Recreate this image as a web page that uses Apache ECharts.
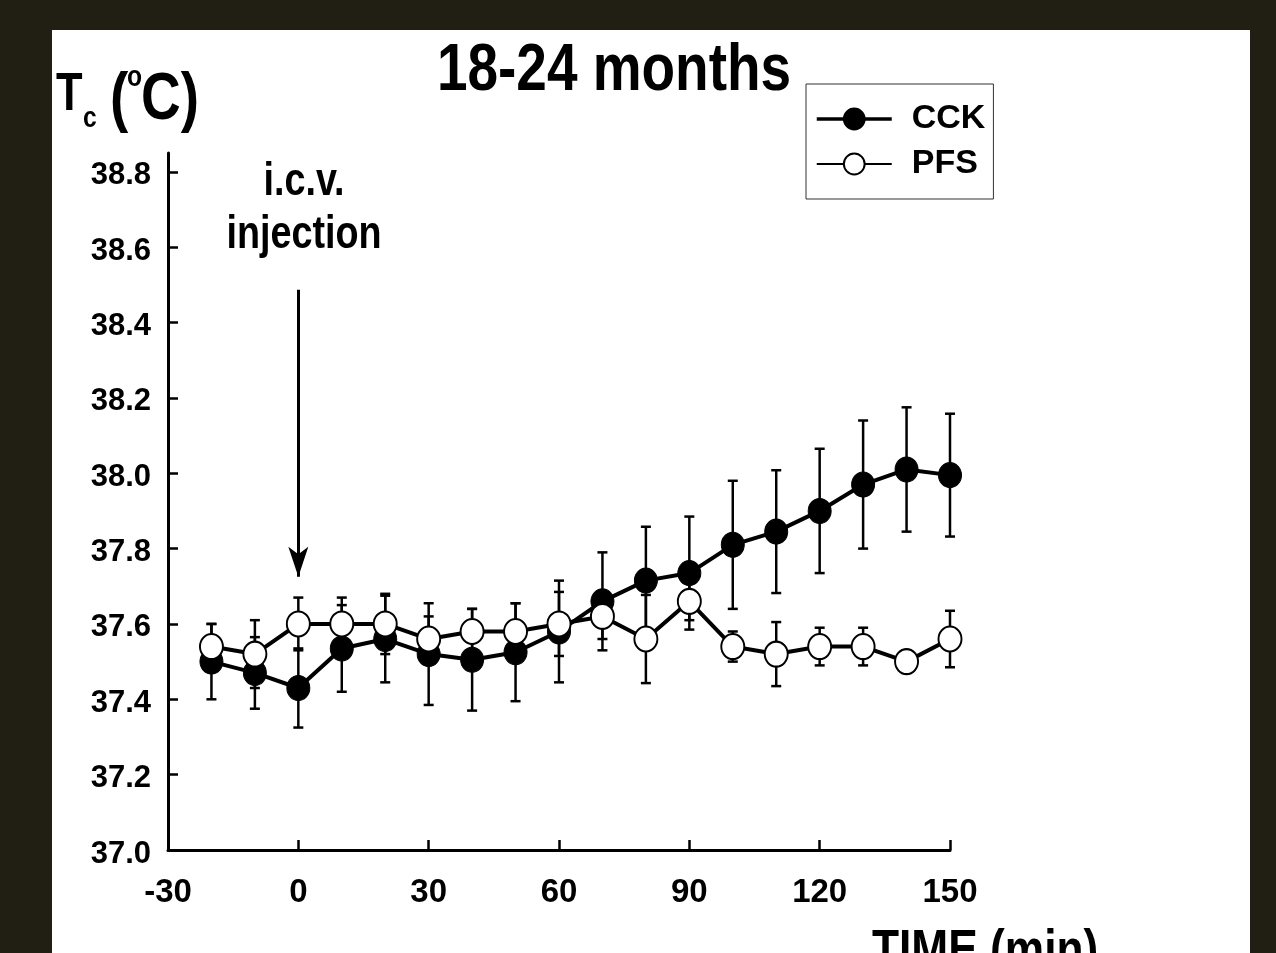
<!DOCTYPE html>
<html>
<head>
<meta charset="utf-8">
<script src="https://cdn.jsdelivr.net/npm/echarts@6/dist/echarts.min.js"></script>
<style>
  body { margin: 0; background: #211e14; }
  #main { width: 1276px; height: 953px; }
</style>
</head>
<body>
<div id="main"></div>
<script>
// time points (min)
const times = [-20, -10, 0, 10, 20, 30, 40, 50, 60, 70, 80, 90, 100, 110, 120, 130, 140, 150];
// CCK group
const cck = [37.50, 37.47, 37.43, 37.535, 37.56, 37.52, 37.505, 37.525, 37.58, 37.66, 37.715, 37.735, 37.81, 37.845, 37.90, 37.97, 38.01, 37.995];
const cckErr = [0.10, 0.095, 0.105, 0.115, 0.115, 0.135, 0.135, 0.13, 0.135, 0.13, 0.143, 0.15, 0.17, 0.163, 0.165, 0.17, 0.165, 0.163];
// PFS group
const pfs = [37.54, 37.52, 37.60, 37.60, 37.60, 37.56, 37.58, 37.58, 37.60, 37.62, 37.56, 37.66, 37.54, 37.52, 37.54, 37.54, 37.50, 37.56];
const pfsErr = [0.06, 0.09, 0.07, 0.07, 0.08, 0.06, 0.06, 0.075, 0.085, 0.06, 0.117, 0.05, 0.04, 0.085, 0.05, 0.05, 0.03, 0.075];
// y tick values
const yTicks = [37.0, 37.2, 37.4, 37.6, 37.8, 38.0, 38.2, 38.4, 38.6, 38.8];
// injection arrow (x = 0, from / to temperature)
const arrowFrom = [0, 38.487];
const arrowTo = [0, 37.725];

const FONT = "'Liberation Sans', Arial, sans-serif";
const SQ = 0.82; // the figure's lettering is condensed

const chart = echarts.init(document.getElementById('main'));

function pairs(vals) {
  return times.map((t, i) => [t, vals[i]]);
}
function errData(vals, errs) {
  return times.map((t, i) => [t, vals[i] - errs[i], vals[i] + errs[i]]);
}
function renderErr(params, api) {
  const x = api.value(0);
  const top = api.coord([x, api.value(2)]);
  const bot = api.coord([x, api.value(1)]);
  const w = 5;
  const st = { stroke: '#000', lineWidth: 2.5 };
  return {
    type: 'group',
    children: [
      { type: 'line', shape: { x1: top[0], y1: top[1], x2: bot[0], y2: bot[1] }, style: st },
      { type: 'line', shape: { x1: top[0] - w, y1: top[1], x2: top[0] + w, y2: top[1] }, style: st },
      { type: 'line', shape: { x1: bot[0] - w, y1: bot[1], x2: bot[0] + w, y2: bot[1] }, style: st }
    ]
  };
}
function label(x, y, text, size, align, extra) {
  return {
    type: 'text', x: x, y: y, scaleX: SQ,
    style: Object.assign({ text: text, font: 'bold ' + size + 'px ' + FONT, fill: '#000', align: align, verticalAlign: 'middle' }, extra || {})
  };
}

const option = {
  animation: false,
  backgroundColor: '#211e14',
  graphic: [
    { type: 'rect', z: -10, shape: { x: 52, y: 30, width: 1198, height: 930 }, style: { fill: '#fff' } },
    label(614, 72, '18-24 months', 67, 'center'),
    label(56, 95, 'T', 53, 'left'),
    label(83, 119, 'c', 30, 'left'),
    label(110, 101, '(', 67, 'left'),
    label(127, 78, 'o', 30, 'left'),
    label(141, 101, 'C)', 67, 'left'),
    label(304, 156, 'i.c.v.\ninjection', 46, 'center', { lineHeight: 53, verticalAlign: 'top' }),
    label(872, 952, 'TIME (min)', 54, 'left')
  ],
  grid: { left: 168, right: 326, top: 153, bottom: 103 },
  legend: {
    orient: 'vertical',
    left: 806,
    top: 84,
    padding: [18, 8, 18, 9],
    itemWidth: 75,
    itemHeight: 26,
    itemGap: 11,
    borderColor: '#333',
    borderWidth: 1,
    data: [{ name: 'CCK', lineStyle: { width: 3.5 } }, { name: 'PFS', lineStyle: { width: 2 } }],
    textStyle: { fontFamily: FONT, fontWeight: 'bold', fontSize: 34, color: '#000', padding: [0, 0, 0, 15] }
  },
  xAxis: {
    type: 'value',
    min: -30,
    max: 150,
    interval: 30,
    splitLine: { show: false },
    axisLine: { lineStyle: { color: '#000', width: 3 } },
    axisTick: { inside: true, length: 10, lineStyle: { color: '#000', width: 2.5 } },
    axisLabel: { margin: 26, color: '#000', fontFamily: FONT, fontWeight: 'bold', fontSize: 33 }
  },
  yAxis: {
    type: 'value',
    min: 37.0,
    max: 38.85,
    splitLine: { show: false },
    axisLine: { show: true, onZero: false, lineStyle: { color: '#000', width: 3 } },
    axisTick: { show: true, inside: true, length: 10, customValues: yTicks, lineStyle: { color: '#000', width: 2.5 } },
    axisLabel: {
      customValues: yTicks,
      margin: 17,
      color: '#000', fontFamily: FONT, fontWeight: 'bold', fontSize: 31,
      formatter: v => '{a|' + v.toFixed(1) + '}',
      rich: { a: { fontFamily: FONT, fontWeight: 'bold', fontSize: 31, color: '#000', padding: [8, 0, 0, 0] } }
    }
  },
  series: [
    { name: 'CCK err', type: 'custom', z: 1, renderItem: renderErr, data: errData(cck, cckErr), silent: true },
    { name: 'PFS err', type: 'custom', z: 1, renderItem: renderErr, data: errData(pfs, pfsErr), silent: true },
    {
      name: 'CCK', type: 'line', z: 2, data: pairs(cck),
      symbol: 'circle', symbolSize: [23, 25],
      lineStyle: { color: '#000', width: 4 },
      itemStyle: { color: '#000', borderColor: '#000', borderWidth: 1 },
      markLine: {
        silent: true,
        symbol: ['none', 'arrow'],
        symbolSize: [15, 30],
        label: { show: false },
        lineStyle: { color: '#000', width: 3, type: 'solid' },
        data: [[{ coord: arrowFrom }, { coord: arrowTo }]]
      }
    },
    {
      name: 'PFS', type: 'line', z: 3, data: pairs(pfs),
      symbol: 'circle', symbolSize: [23, 25],
      lineStyle: { color: '#000', width: 4 },
      itemStyle: { color: '#fff', borderColor: '#000', borderWidth: 2 }
    }
  ]
};

chart.setOption(option);
</script>
</body>
</html>
